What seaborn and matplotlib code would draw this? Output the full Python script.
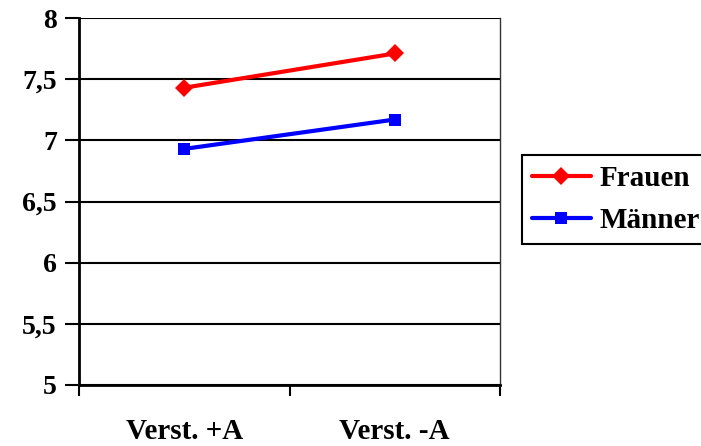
import matplotlib
matplotlib.use("Agg")
import matplotlib.pyplot as plt
from matplotlib.ticker import FixedLocator, FuncFormatter, NullFormatter
import seaborn as sns
import pandas as pd

# Mean scores per condition and group
conditions = ["Verst. +A", "Verst. -A"]
frauen = [7.43, 7.71]
maenner = [6.93, 7.17]
groups = ["Frauen", "Männer"]
y_ticks = [5, 5.5, 6, 6.5, 7, 7.5, 8]

df = pd.DataFrame({
    "pos": [0, 1, 0, 1],
    "wert": frauen + maenner,
    "gruppe": [groups[0]] * 2 + [groups[1]] * 2,
})

sns.set_theme(style="white")
plt.rcParams["font.family"] = ["Liberation Serif", "DejaVu Serif"]
plt.rcParams["font.weight"] = "bold"
plt.rcParams["text.color"] = "black"
plt.rcParams["xtick.color"] = "black"
plt.rcParams["ytick.color"] = "black"

fig = plt.figure(figsize=(7.01, 4.46), dpi=100)
ax = fig.add_axes([79 / 701, 1 - 385 / 446, 421 / 701, 367 / 446])

sns.lineplot(
    data=df, x="pos", y="wert", hue="gruppe", style="gruppe",
    palette={"Frauen": "#FF0000", "Männer": "#0000FF"},
    markers={"Frauen": "D", "Männer": "s"}, dashes=False,
    linewidth=3, markersize=9, markeredgewidth=0, ax=ax,
)

ax.set_xlim(-0.5, 1.5)
ax.set_ylim(5, 8)
ax.set_xlabel("")
ax.set_ylabel("")

# Horizontal gridlines at each y tick
for v in y_ticks:
    ax.axhline(v, color="black", lw=1.5, zorder=0.5)

# Category boundaries as major ticks, labels on minor ticks at category centres
ax.xaxis.set_major_locator(FixedLocator([-0.5, 0.5, 1.5]))
ax.xaxis.set_major_formatter(NullFormatter())
ax.xaxis.set_minor_locator(FixedLocator([0, 1]))
ax.xaxis.set_minor_formatter(FuncFormatter(lambda v, p: conditions[int(round(v))]))
ax.tick_params(axis="x", which="major", direction="out", length=8, width=1.5,
               color="black", bottom=True)
ax.tick_params(axis="x", which="minor", length=0, pad=24, labelsize=21,
               labelcolor="black", bottom=True)

ax.yaxis.set_major_locator(FixedLocator(y_ticks))
ax.yaxis.set_major_formatter(
    FuncFormatter(lambda v, p: (f"{v:g}").replace(".", ",")))
ax.tick_params(axis="y", direction="out", length=10, width=1.5, color="black",
               labelcolor="black", left=True, labelsize=20, pad=6)

for lab in ax.get_xticklabels(minor=True) + ax.get_yticklabels():
    lab.set_fontweight("bold")

for side in ["left", "bottom"]:
    ax.spines[side].set_color("black")
    ax.spines[side].set_linewidth(2)
ax.spines["top"].set_visible(False)
ax.spines["right"].set_color("#333333")
ax.spines["right"].set_linewidth(1)

handles, labels = ax.get_legend_handles_labels()
if ax.legend_:
    ax.legend_.remove()
leg = fig.legend(
    handles, labels, loc="upper left",
    bbox_to_anchor=(522 / 701, 1 - 155 / 446),
    prop={"family": "Liberation Serif", "weight": "bold", "size": 21},
    frameon=True, fancybox=False, framealpha=1, edgecolor="black",
    handlelength=2.0, handletextpad=0.3, labelspacing=0.5,
    borderpad=0.35, borderaxespad=0, labelcolor="black",
)
leg.get_frame().set_linewidth(1.5)

fig.savefig("out.png", dpi=100)
